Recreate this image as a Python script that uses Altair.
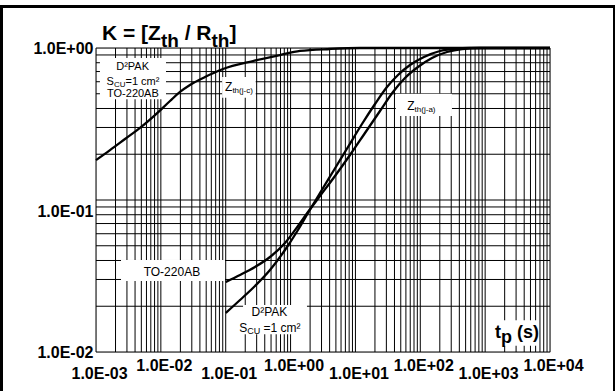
import altair as alt
import pandas as pd

# Normalised transient thermal impedance K = Zth / Rth versus pulse duration tp (s)

# Zth(j-c), junction to case (D2PAK and TO-220AB)
tp_jc = [0.001, 0.001644, 0.0028, 0.00476, 0.00812, 0.01384, 0.01972, 0.0281, 0.0479, 0.0908,
         0.2634, 0.687, 1.396, 4.05, 11.75, 10000.0]
k_jc = [0.183, 0.213, 0.252, 0.298, 0.362, 0.448, 0.514, 0.571, 0.644, 0.727,
        0.821, 0.899, 0.956, 0.985, 1.0, 1.0]

# Zth(j-a), junction to ambient, TO-220AB
tp_ja_to220 = [0.1, 0.1661, 0.2827, 0.4817, 0.8203, 1.301, 1.856, 2.842, 4.841, 8.245,
               14.04, 23.91, 37.95, 58.09, 92.16, 151.5, 258.0, 439.5, 832.8, 10000.0]
k_ja_to220 = [0.02888, 0.03211, 0.03625, 0.04217, 0.05214, 0.06744, 0.08337, 0.1062, 0.1438, 0.1977,
              0.2760, 0.3850, 0.5135, 0.6348, 0.7499, 0.8594, 0.9412, 0.985, 1.0, 1.0]

# Zth(j-a), junction to ambient, D2PAK on 1 cm2 copper
tp_ja_d2pak = [0.1, 0.1661, 0.2827, 0.4817, 0.8203, 1.301, 1.856, 2.842, 4.671, 7.679,
               12.62, 20.03, 30.66, 45.32, 69.37, 114.0, 201.2, 342.8, 583.9, 10000.0]
k_ja_d2pak = [0.01806, 0.02198, 0.02718, 0.03463, 0.04689, 0.06348, 0.08212, 0.1112, 0.1575, 0.2232,
              0.3162, 0.4281, 0.5539, 0.6645, 0.7729, 0.8727, 0.9556, 0.988, 1.0, 1.0]

x_decades = [1e-3, 1e-2, 1e-1, 1e0, 1e1, 1e2, 1e3, 1e4]
x_tick_labels = ["1.0E-03", "1.0E-02", "1.0E-01", "1.0E+00", "1.0E+01", "1.0E+02", "1.0E+03", "1.0E+04"]
y_decades = [1e-2, 1e-1, 1e0]
y_tick_labels = ["1.0E-02", "1.0E-01", "1.0E+00"]

# log-paper grid: 1..9 in every decade
x_grid = [m * 10.0 ** e for e in range(-3, 4) for m in range(1, 10)] + [1e4]
y_grid = [m * 10.0 ** e for e in (-2, -1) for m in range(1, 10)] + [1.0]

FONT = "Liberation Sans"
W, H = 454, 304

x_scale = alt.Scale(type="log", domain=[1e-3, 1e4], nice=False)
y_scale = alt.Scale(type="log", domain=[1e-2, 1.0], nice=False)

EXP = "round(log(datum.value) / LN10)"
x_label_expr = "[" + ",".join(f"'{s}'" for s in x_tick_labels) + f"][{EXP} + 3]"
y_label_expr = "[" + ",".join(f"'{s}'" for s in y_tick_labels) + f"][{EXP} + 2]"

# decade labels on the time axis alternate between two rows
x_axis = alt.Axis(
    values=x_decades, labelExpr=x_label_expr, title=None, grid=False, ticks=False, domain=False,
    labelFont=FONT, labelFontWeight="bold", labelFontSize=16, labelColor="black",
    labelFlush=False, labelOverlap=False, labelBound=False, labelOffset=3,
    labelPadding={"condition": {"test": f"abs({EXP}) % 2 == 1", "value": 13}, "value": 5},
)
y_axis = alt.Axis(
    values=y_decades, labelExpr=y_label_expr, title=None, grid=False, ticks=False, domain=False,
    labelFont=FONT, labelFontWeight="bold", labelFontSize=16, labelColor="black",
    labelFlush=False, labelOverlap=False, labelBound=False, labelPadding=3,
    labelOffset={"condition": {"test": f"{EXP} == -1", "value": 11}, "value": 0},
)


def X(field):
    return alt.X(field, type="quantitative", scale=x_scale, axis=x_axis)


def Y(field):
    return alt.Y(field, type="quantitative", scale=y_scale, axis=y_axis)


# glyph advance widths (per 1000 em) for laying out mixed-size text runs
REG = {" ": 278, "(": 333, ")": 333, "-": 333, "/": 278, "=": 584, "A": 667, "B": 667,
       "C": 722, "D": 722, "K": 667, "O": 778, "P": 667, "R": 722, "S": 667, "T": 611,
       "U": 722, "Z": 611, "[": 278, "]": 278, "a": 556, "c": 500, "h": 556, "j": 222,
       "m": 833, "p": 556, "s": 500, "t": 278, "\u00b2": 333}
BOLD = {" ": 278, "(": 333, ")": 333, "-": 333, "/": 278, "=": 584, "K": 722, "R": 722,
        "Z": 611, "[": 333, "]": 333, "h": 611, "p": 611, "s": 556, "t": 333}


def text_width(s, size, bold=False):
    table = BOLD if bold else REG
    return sum(table.get(c, 556) for c in s) * size / 1000.0


def rich_text(parts, t=None, k=None, px=None, py=None, bold=False, center=True):
    """Lay out (string, size, baseline shift) pieces side by side."""
    total = sum(text_width(s, size, bold) for s, size, _ in parts)
    offset = -total / 2.0 if center else 0.0
    layers = []
    for s, size, shift in parts:
        lead = len(s) - len(s.lstrip(" "))
        offset += text_width(" " * lead, size, bold)
        body = s.strip(" ")
        mark = alt.Chart(pd.DataFrame({"t": [t], "k": [k], "s": [body]})).mark_text(
            align="left", baseline="alphabetic", dx=offset, dy=shift,
            font=FONT, fontSize=size, fontWeight="bold" if bold else "normal", color="black",
        )
        if px is not None:
            enc = dict(x=alt.value(px), y=alt.value(py))
        else:
            enc = dict(x=X("t"), y=Y("k"))
        layers.append(mark.encode(text="s:N", **enc))
        offset += text_width(s.lstrip(" "), size, bold)
    return layers


def box(t1, t2, k1, k2):
    df = pd.DataFrame({"t": [t1], "t2": [t2], "k": [k1], "k2": [k2]})
    return alt.Chart(df).mark_rect(fill="white", strokeWidth=0).encode(
        x=X("t"), x2="t2:Q", y=Y("k"), y2="k2:Q")


curves = pd.concat([
    pd.DataFrame({"tp": tp_jc, "K": k_jc, "curve": "Zth(j-c)"}),
    pd.DataFrame({"tp": tp_ja_to220, "K": k_ja_to220, "curve": "Zth(j-a) TO-220AB"}),
    pd.DataFrame({"tp": tp_ja_d2pak, "K": k_ja_d2pak, "curve": "Zth(j-a) D2PAK"}),
])

vgrid = alt.Chart(pd.DataFrame({"v": x_grid})).mark_rule(color="black", strokeWidth=1).encode(x=X("v"))
hgrid = alt.Chart(pd.DataFrame({"v": y_grid})).mark_rule(color="black", strokeWidth=1).encode(y=Y("v"))

lines = alt.Chart(curves).mark_line(color="black", strokeWidth=2.3, interpolate="monotone").encode(
    x=X("tp"), y=Y("K"), detail="curve:N")

boxes = [
    box(0.00115, 0.012, 0.46, 0.86),      # package key, top left
    box(0.088, 0.29, 0.47, 0.645),        # Zth(j-c)
    box(42.0, 308.0, 0.357, 0.50),        # Zth(j-a)
    box(0.00243, 0.0975, 0.0293, 0.0403), # TO-220AB
    box(0.185, 1.79, 0.0131, 0.0204),     # D2PAK, Scu = 1 cm2
    box(1274.0, 6761.0, 0.011, 0.0162),   # tp (s)
]

texts = []
texts += rich_text([("D\u00b2PAK", 11, 0)], t=0.00372, k=0.717)
texts += rich_text([("S", 11, 0), ("CU", 8, 2), ("=1 cm\u00b2", 11, 0)], t=0.00372, k=0.575)
texts += rich_text([("TO-220AB", 11, 0)], t=0.00372, k=0.476)
texts += rich_text([("Z", 12, 0), ("th(j-c)", 8, 2)], t=0.16, k=0.518)
texts += rich_text([("Z", 12, 0), ("th(j-a)", 8, 2)], t=104.0, k=0.39)
texts += rich_text([("TO-220AB", 12, 0)], t=0.01486, k=0.0314)
texts += rich_text([("D\u00b2PAK", 12, 0)], t=0.48, k=0.01713)
texts += rich_text([("S", 12, 0), ("CU", 9, 2), (" =1 cm\u00b2", 12, 0)], t=0.48, k=0.01364)
# chart heading and time-axis title (pixel anchored)
texts += rich_text([("K = [Z", 21, 0), ("th", 19, 7), (" / R", 21, 0), ("th", 19, 7), ("]", 21, 0)],
                   px=6, py=-8, bold=True, center=False)
texts += rich_text([("t", 18, 0), ("p", 18, 5), (" (s)", 18, 0)],
                   px=399, py=290, bold=True, center=False)

frame = alt.Chart(pd.DataFrame({"a": [0]})).mark_rect(
    filled=False, stroke="black", strokeWidth=3, strokeOpacity=1).encode(
    x=alt.value(-94.5), x2=alt.value(518.5), y=alt.value(-41.5), y2=alt.value(420))

chart = alt.layer(vgrid, hgrid, *boxes, lines, *texts, frame).properties(
    width=W, height=H,
    autosize=alt.AutoSizeParams(type="none"),
    padding={"left": 96, "top": 48, "right": 65, "bottom": 39},
).configure_view(stroke=None).configure(background="white")

chart.save("out.html", embed_options={"renderer": "svg", "actions": False})
